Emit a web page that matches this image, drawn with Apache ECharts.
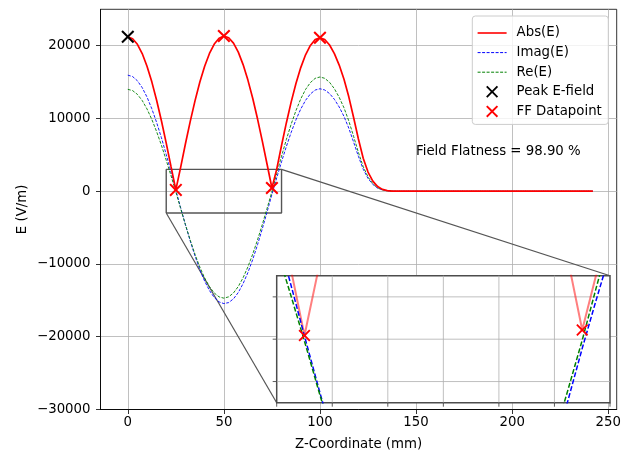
<!DOCTYPE html>
<html>
<head>
<meta charset="utf-8">
<script src="https://cdn.jsdelivr.net/npm/echarts@6/dist/echarts.min.js"></script>
<style>
  html, body { margin: 0; padding: 0; background: #ffffff; }
  #chart { width: 626px; height: 456px; }
</style>
</head>
<body>
<div id="chart"></div>
<script>
// Longitudinal sample positions along the cavity axis (mm)
const zPos = [0, 2.5, 5, 7.5, 10, 12.5, 15, 17.5, 20, 22.5, 25, 27.5, 30, 32.5, 35, 37.5, 40, 42.5, 45, 47.5,
  50, 52.5, 55, 57.5, 60, 62.5, 65, 67.5, 70, 72.5, 75, 77.5, 80, 82.5, 85, 87.5, 90, 92.5, 95, 97.5,
  100, 102.5, 105, 107.5, 110, 112.5, 115, 117.5, 120, 122.5, 125, 127.5, 130, 132.5, 135, 137.5, 140,
  150, 175, 200, 225, 242];

// |E| along the axis (V/m)
const absE = [21223, 20962, 20187, 18917, 17182, 15028, 12505, 9689, 6608, 3370, 175, 3285, 6524, 9605, 12453, 14997, 17174, 18931, 20229, 21033,
  21324, 21092, 20350, 19112, 17397, 15270, 12771, 9950, 6888, 3666, 436, 3035, 6285, 9383, 12247, 14798, 16988, 18748, 20035, 20828,
  21089, 20836, 20098, 18917, 17335, 15395, 12970, 10123, 7170, 4534, 2636, 1392, 633, 253, 84, 21, 0,
  0, 0, 0, 0, 0];

// Imaginary part of E (V/m)
const imagE = [15950, 15756, 15179, 14232, 12939, 11332, 9453, 7350, 5049, 2625, 149, -2260, -4609, -6846, -8917, -10770, -12362, -13653, -14610, -15214,
  -15447, -15302, -14790, -13922, -12698, -11181, -9396, -7363, -5154, -2829, -434, 1842, 4041, 6138, 8078, 9811, 11295, 12488, 13363, 13904,
  14080, 13911, 13418, 12630, 11574, 10278, 8659, 6758, 4787, 3027, 1760, 929, 422, 169, 56, 14, 0,
  0, 0, 0, 0, 0];

// Real part of E (V/m)
const realE = [14000, 13826, 13309, 12462, 11305, 9870, 8186, 6313, 4263, 2113, -92, -2384, -4617, -6737, -8693, -10437, -11921, -13115, -13991, -14523,
  -14700, -14516, -13977, -13093, -11892, -10400, -8650, -6692, -4569, -2332, -45, 2412, 4814, 7097, 9205, 11078, 12689, 13984, 14928, 15508,
  15700, 15512, 14962, 14083, 12905, 11461, 9656, 7536, 5338, 3376, 1963, 1036, 471, 188, 63, 16, 0,
  0, 0, 0, 0, 0];

// Peak field point
const peakZ = [0];
const peakE = [21223];

// Field-flatness sample points (iris minima and cell maxima)
const ffZ = [25, 50, 75, 100];
const ffE = [175, 21324, 436, 21089];

// Axis ranges and ticks
const xRange = [-14.2, 254.4];
const yRange = [-30000, 25000];
const xTicks = [0, 50, 100, 150, 200, 250];
const yTicks = [-30000, -20000, -10000, 0, 10000, 20000];

// Zoomed region shown in the inset
const insetX = [20, 80];
const insetY = [-3000, 3000];
const insetXTicks = [20, 30, 40, 50, 60, 70, 80];
const insetYTicks = [-2000, 0, 2000];

// Position of the flatness annotation (data coordinates)
const noteAt = [150, 5000];

const FONT = 'DejaVu Sans';
const FS = 13.3;

const pairs = (xs, ys) => xs.map((x, i) => [x, ys[i]]);
const fmt = v => (v < 0 ? '\u2212' + Math.abs(v) : String(v));

// Flatness from the cell-peak field-flatness samples
const ffMax = Math.max(...ffE);
const ffPeaks = ffE.filter(v => v > 0.5 * ffMax);
const flatness = 100 * Math.min(...ffPeaks) / Math.max(...ffPeaks);

const crossPath = 'path://M0,1.1L1.1,0L5,3.9L8.9,0L10,1.1L6.1,5L10,8.9L8.9,10L5,6.1L1.1,10L0,8.9L3.9,5Z';

const chart = echarts.init(document.getElementById('chart'), null, { renderer: 'canvas' });

const GRID_COLOR = '#b0b0b0';
const gridLine = { color: GRID_COLOR, width: 0.8 };
const noSymbol = { opacity: 0 };

const option = {
  animation: false,
  backgroundColor: '#ffffff',
  textStyle: { fontFamily: FONT },
  legend: {
    left: 472.3,
    top: 16,
    orient: 'vertical',
    align: 'left',
    selectedMode: false,
    padding: [10.5, 6.5, 6.5, 4.5],
    itemWidth: 29,
    itemHeight: 12,
    itemGap: 6.6,
    backgroundColor: 'rgba(255,255,255,0.8)',
    borderColor: '#cccccc',
    borderWidth: 1,
    borderRadius: 3,
    textStyle: { fontFamily: FONT, fontSize: FS, color: '#000', padding: [0, 0, 0, 5] },
    data: [
      { name: 'Abs(E)', itemStyle: noSymbol, lineStyle: { width: 1.6 } },
      { name: 'Imag(E)', itemStyle: noSymbol, lineStyle: { width: 1 } },
      { name: 'Re(E)', itemStyle: noSymbol, lineStyle: { width: 1 } },
      { name: 'Peak E-field' },
      { name: 'FF Datapoint' }
    ],
    z: 10
  },
  grid: [
    {
      left: 100.5, top: 9.3, width: 516.2, height: 400.2,
      show: true, borderColor: '#000', borderWidth: 0.8, backgroundColor: 'transparent',
      containLabel: false, outerBoundsMode: 'none'
    },
    {
      left: 276.7, top: 275.7, width: 333.3, height: 127,
      show: true, borderColor: '#4d4d4d', borderWidth: 1.5, backgroundColor: '#ffffff',
      containLabel: false, outerBoundsMode: 'none', z: 3
    }
  ],
  xAxis: [
    {
      gridIndex: 0, type: 'value', min: xRange[0], max: xRange[1],
      name: 'Z-Coordinate (mm)', nameLocation: 'middle', nameGap: 29, nameMoveOverlap: false,
      nameTextStyle: { fontFamily: FONT, fontSize: FS, color: '#000' },
      axisLine: { show: true, onZero: false, lineStyle: { color: '#000', width: 0.8 } },
      axisTick: { show: true, length: 4.5, lineStyle: { color: '#000', width: 0.8 }, customValues: xTicks },
      axisLabel: { customValues: xTicks, margin: 7, fontFamily: FONT, fontSize: FS, color: '#000', formatter: fmt },
      splitLine: { show: true, lineStyle: gridLine }
    },
    {
      gridIndex: 1, type: 'value', min: insetX[0], max: insetX[1],
      axisLine: { show: false, onZero: false },
      axisTick: { show: false },
      axisLabel: { show: false },
      splitLine: { show: false }
    }
  ],
  yAxis: [
    {
      gridIndex: 0, type: 'value', min: yRange[0], max: yRange[1],
      name: 'E (V/m)', nameLocation: 'middle', nameGap: 71, nameRotate: 90, nameMoveOverlap: false,
      nameTextStyle: { fontFamily: FONT, fontSize: FS, color: '#000' },
      axisLine: { show: true, onZero: false, lineStyle: { color: '#000', width: 0.8 } },
      axisTick: { show: true, length: 4.5, lineStyle: { color: '#000', width: 0.8 }, customValues: yTicks },
      axisLabel: { customValues: yTicks, margin: 10, fontFamily: FONT, fontSize: FS, color: '#000', formatter: fmt },
      splitLine: { show: true, showMinLine: false, lineStyle: gridLine }
    },
    {
      gridIndex: 1, type: 'value', min: insetY[0], max: insetY[1],
      axisLine: { show: false, onZero: false },
      axisTick: { show: false },
      axisLabel: { show: false },
      splitLine: { show: false }
    }
  ],
  series: [
    // main axes
    {
      name: 'Abs(E)', type: 'line', xAxisIndex: 0, yAxisIndex: 0, symbol: 'none',
      data: pairs(zPos, absE), itemStyle: { color: '#ff0000' },
      lineStyle: { color: '#ff0000', width: 1.7 }, z: 3
    },
    {
      name: 'Imag(E)', type: 'line', xAxisIndex: 0, yAxisIndex: 0, symbol: 'none',
      data: pairs(zPos, imagE), itemStyle: { color: '#0000ff' },
      lineStyle: { color: '#0000ff', width: 0.9, type: [3, 1.5] }, z: 2
    },
    {
      name: 'Re(E)', type: 'line', xAxisIndex: 0, yAxisIndex: 0, symbol: 'none',
      data: pairs(zPos, realE), itemStyle: { color: '#008000' },
      lineStyle: { color: '#008000', width: 0.9, type: [3, 1.5] }, z: 2
    },
    {
      name: 'Peak E-field', type: 'scatter', xAxisIndex: 0, yAxisIndex: 0,
      symbol: crossPath, symbolSize: 13, data: pairs(peakZ, peakE),
      itemStyle: { color: '#000000', opacity: 1 }, z: 6
    },
    {
      name: 'FF Datapoint', type: 'scatter', xAxisIndex: 0, yAxisIndex: 0,
      symbol: crossPath, symbolSize: 13, data: pairs(ffZ, ffE),
      itemStyle: { color: '#ff0000', opacity: 1 }, z: 6
    },
    // outline of the zoomed region
    {
      name: 'zoom-region', type: 'line', xAxisIndex: 0, yAxisIndex: 0, symbol: 'none', silent: true,
      data: [[insetX[0], insetY[0]], [insetX[1], insetY[0]], [insetX[1], insetY[1]], [insetX[0], insetY[1]], [insetX[0], insetY[0]]],
      lineStyle: { color: '#555555', width: 1.4 }, z: 1
    },
    // inset axes
    {
      name: 'Abs(E)', type: 'line', xAxisIndex: 1, yAxisIndex: 1, symbol: 'none', clip: true,
      data: pairs(zPos, absE),
      lineStyle: { color: '#ff0000', width: 2, opacity: 0.5 }, z: 5
    },
    {
      name: 'Imag(E)', type: 'line', xAxisIndex: 1, yAxisIndex: 1, symbol: 'none', clip: true,
      data: pairs(zPos, imagE),
      lineStyle: { color: '#0000ff', width: 1.5, type: [5, 2.2] }, z: 5
    },
    {
      name: 'Re(E)', type: 'line', xAxisIndex: 1, yAxisIndex: 1, symbol: 'none', clip: true,
      data: pairs(zPos, realE),
      lineStyle: { color: '#008000', width: 1.5, type: [5, 2.2] }, z: 5
    },
    {
      name: 'FF Datapoint', type: 'scatter', xAxisIndex: 1, yAxisIndex: 1, clip: true,
      symbol: crossPath, symbolSize: 12, data: pairs(ffZ, ffE),
      itemStyle: { color: '#ff0000', opacity: 1 }, z: 6
    }
  ]
};

chart.setOption(option);

// Inset grid lines and tick marks, placed through the inset's own scales
const inset = p => chart.convertToPixel({ gridIndex: 1 }, p);
const main = p => chart.convertToPixel({ gridIndex: 0 }, p);
const seg = (p, q, stroke, w, z) => ({
  type: 'line', silent: true, z: z,
  shape: { x1: p[0], y1: p[1], x2: q[0], y2: q[1] },
  style: { stroke: stroke, lineWidth: w }
});

const TICK = 4;
const graphics = [];
insetXTicks.forEach(v => {
  const top = inset([v, insetY[1]]);
  const bot = inset([v, insetY[0]]);
  if (v > insetX[0] && v < insetX[1]) graphics.push(seg(top, bot, GRID_COLOR, 0.8, 4));
  graphics.push(seg(bot, [bot[0], bot[1] + TICK], '#333333', 0.8, 4));
});
insetYTicks.forEach(v => {
  const l = inset([insetX[0], v]);
  const r = inset([insetX[1], v]);
  graphics.push(seg(l, r, GRID_COLOR, 0.8, 4));
  graphics.push(seg([l[0] - TICK, l[1]], l, '#333333', 0.8, 4));
});

// Connector lines from the zoom outline to the inset corners
graphics.push(seg(main([insetX[0], insetY[0]]), inset([insetX[0], insetY[0]]), '#555555', 1.2, 1));
graphics.push(seg(main([insetX[1], insetY[1]]), inset([insetX[1], insetY[1]]), '#555555', 1.2, 1));

// Flatness note
const note = main(noteAt);
graphics.push({
  type: 'text', x: note[0], y: note[1] - 3.5, z: 5, silent: true,
  style: {
    text: 'Field Flatness = ' + flatness.toFixed(2) + ' %',
    font: FS + 'px "' + FONT + '"', fill: '#000', align: 'left', verticalAlign: 'middle'
  }
});

chart.setOption({ graphic: graphics });
</script>
</body>
</html>
